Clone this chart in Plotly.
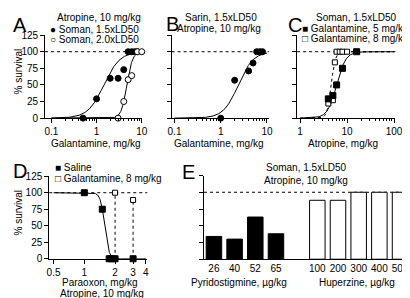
import numpy as np
import plotly.graph_objects as go

# ---------------- data ----------------
# Panel A: Galantamine dose (mg/kg) vs % survival, Atropine 10 mg/kg
A_dose_15 = [0.5, 1, 2, 3, 4, 5, 6, 7, 8]
A_surv_15 = [0, 29, 60, 60, 73, 100, 100, 100, 100]
A_dose_20 = [3, 4, 5, 6, 8, 10]
A_surv_20 = [0, 25, 58, 64, 100, 100]
A_fit_15 = (1.45, 2.46)   # EC50, Hill slope
A_fit_20 = (4.7, 7.0)

# Panel B: Sarin 1.5xLD50
B_dose = [1, 2, 4, 5, 6, 7, 8]
B_surv = [0, 57, 71, 83, 100, 100, 100]
B_fit = (2.4, 2.7)

# Panel C: Atropine dose (mg/kg)
C_dose_g5 = [4, 5, 6, 8, 16]
C_surv_g5 = [29, 34, 50, 75, 100]
C_dose_g8 = [4, 5, 5.5, 6, 7, 8, 10]
C_surv_g8 = [22, 27, 84, 100, 100, 100, 100]
C_fit_g5 = (6.0, 4.5)
C_fit_g8 = (4.6, 10.0)

# Panel D: Paraoxon dose (mg/kg)
D_dose_sal = [1, 1.5, 1.75, 1.85, 2, 3]
D_surv_sal = [100, 75, 0, 0, 0, 0]
D_dose_gal = [2, 3]
D_surv_gal = [100, 89]
D_fit_sal = (1.58, -21.0)
D_ticks = [0.5, 1, 2, 3, 4]

# Panel E
E_pyr_labels = ["26", "40", "52", "65"]
E_pyr_vals = [34, 30, 63, 38]
E_hup_labels = ["100", "200", "300", "400", "500"]
E_hup_vals = [88, 88, 100, 100, 100]

Y_TICKS = [0, 25, 50, 75, 100, 125]

# ---------------- helpers ----------------
W, H = 410, 298
FONT = "Arial"
FS = 10

def px(x):
    return x / W

def py(y):
    return 1 - y / H

def hill(params, lo, hi):
    ec50, h = params
    xs = np.logspace(np.log10(lo), np.log10(hi), 400)
    return xs, 100.0 / (1.0 + (ec50 / xs) ** h)

fig = go.Figure()

BLACK = "black"

def add_pts(x, y, xa, ya, symbol, filled, size=6):
    fig.add_trace(go.Scatter(
        x=x, y=y, mode="markers", xaxis=xa, yaxis=ya, cliponaxis=False,
        marker=dict(symbol=symbol, size=size,
                    color=BLACK if filled else "white",
                    line=dict(color=BLACK, width=1)),
        showlegend=False, hoverinfo="skip"))

def add_curve(params, lo, hi, xa, ya, dash="solid"):
    xs, ys = hill(params, lo, hi)
    fig.add_trace(go.Scatter(
        x=xs, y=ys, mode="lines", xaxis=xa, yaxis=ya,
        line=dict(color=BLACK, width=1, dash=dash),
        showlegend=False, hoverinfo="skip"))

# Panel A
add_curve(A_fit_15, 0.1, 10, "x", "y")
add_curve(A_fit_20, 0.1, 10, "x", "y")
add_pts(A_dose_15, A_surv_15, "x", "y", "circle", True)
add_pts(A_dose_20, A_surv_20, "x", "y", "circle", False)
# Panel B
add_curve(B_fit, 0.1, 10, "x2", "y2")
add_pts(B_dose, B_surv, "x2", "y2", "circle", True)
# Panel C
add_curve(C_fit_g8, 1, 100, "x3", "y3", dash="dot")
add_curve(C_fit_g5, 1, 100, "x3", "y3")
add_pts(C_dose_g8, C_surv_g8, "x3", "y3", "square", False, 5)
add_pts(C_dose_g5, C_surv_g5, "x3", "y3", "square", True, 6)
# Panel D
add_curve(D_fit_sal, 0.5, 4, "x4", "y4")
add_pts(D_dose_sal, D_surv_sal, "x4", "y4", "square", True, 6)
add_pts(D_dose_gal, D_surv_gal, "x4", "y4", "square", False, 5)
for xv, yv in zip(D_dose_gal, D_surv_gal):
    fig.add_shape(type="line", xref="x4", yref="y4", x0=xv, x1=xv, y0=0, y1=yv,
                  line=dict(color=BLACK, width=1, dash="dot"), layer="below")

# Panel E bars
pos_pyr = list(range(len(E_pyr_labels)))
pos_hup = list(range(len(E_pyr_labels) + 1, len(E_pyr_labels) + 1 + len(E_hup_labels)))
fig.add_trace(go.Bar(x=pos_pyr, y=E_pyr_vals, xaxis="x5", yaxis="y5", width=0.75,
                     marker=dict(color=BLACK, line=dict(color=BLACK, width=1)),
                     showlegend=False, hoverinfo="skip"))
fig.add_trace(go.Bar(x=pos_hup, y=E_hup_vals, xaxis="x5", yaxis="y5", width=0.75,
                     marker=dict(color="white", line=dict(color=BLACK, width=1)),
                     showlegend=False, hoverinfo="skip"))

# dotted 100% reference lines
for xr, yr in [("x", "y"), ("x2", "y2"), ("x3", "y3"), ("x4", "y4"), ("x5", "y5")]:
    fig.add_shape(type="line", xref=f"{xr} domain", yref=yr, x0=0, x1=1, y0=100, y1=100,
                  line=dict(color=BLACK, width=1, dash="dot"), layer="below")

# ---------------- axes ----------------
tickfont = dict(family=FONT, size=FS, color=BLACK)

def yaxis(dom_top, dom_bot, labels):
    return dict(domain=[py(dom_bot), py(dom_top)], range=[0, 125], showgrid=False,
                zeroline=False, showline=True, linecolor=BLACK, linewidth=1,
                ticks="outside", ticklen=4, tickwidth=1, tickcolor=BLACK,
                tickvals=Y_TICKS, showticklabels=labels, tickfont=tickfont,
                fixedrange=True)

def minor_vals(lo_exp, hi_exp):
    vals = []
    for e in range(lo_exp, hi_exp):
        for m in range(2, 10):
            vals.append(m * 10.0 ** e)
    return vals

def logx(left, right, rng, ya, tickvals, ticktext, minor=True):
    d = dict(type="log", domain=[px(left), px(right)], range=rng, anchor=ya,
             showgrid=False, zeroline=False, showline=True, linecolor=BLACK, linewidth=1,
             ticks="outside", ticklen=4, tickwidth=1, tickcolor=BLACK,
             tickvals=tickvals, ticktext=ticktext, tickfont=tickfont, fixedrange=True)
    if minor:
        lo = int(np.floor(np.log10(tickvals[0])))
        hi = int(np.round(np.log10(tickvals[-1])))
        d["minor"] = dict(tickvals=minor_vals(lo, hi), ticks="outside", ticklen=2,
                          tickwidth=1, tickcolor=BLACK)
    return d

fig.update_layout(
    xaxis=logx(34, 134, [-1.14, 1.015], "y", [0.1, 1, 10], ["0.1", "1", "10"]),
    yaxis=yaxis(22, 108.5, True) | dict(anchor="x"),
    xaxis2=logx(164, 264, [-1.063, 1.042], "y2", [0.1, 1, 10], ["0.1", "1", "10"]),
    yaxis2=yaxis(22, 108.5, False) | dict(anchor="x2"),
    xaxis3=logx(293, 394, [-0.062, 2.03], "y3", [1, 10, 100], ["1", "10", "100"]),
    yaxis3=yaxis(22, 108.5, False) | dict(anchor="x3"),
    xaxis4=logx(38.3, 139, [-0.343, 0.616], "y4", D_ticks, [str(t) for t in D_ticks], minor=False),
    yaxis4=yaxis(169, 255, True) | dict(anchor="x4"),
    xaxis5=dict(domain=[px(197.3), px(410)], range=[-0.48, 9.53], anchor="y5",
                showgrid=False, zeroline=False, showline=True, linecolor=BLACK, linewidth=1,
                ticks="", tickvals=pos_pyr + pos_hup, ticktext=E_pyr_labels + E_hup_labels,
                tickfont=tickfont, fixedrange=True),
    yaxis5=yaxis(168.3, 255.5, False) | dict(anchor="x5"),
)

# ---------------- text ----------------
def ann(text, x, y, size=FS, xanchor="center", yanchor="middle", angle=0):
    fig.add_annotation(text=text, x=px(x), y=py(y), xref="paper", yref="paper",
                       showarrow=False, xanchor=xanchor, yanchor=yanchor, textangle=angle,
                       font=dict(family=FONT, size=size, color=BLACK))

# panel letters
for letter, (lx, ly) in {"A": (8, 11), "B": (165, 10), "C": (291, 11),
                         "D": (8, 164), "E": (181, 165)}.items():
    ann(letter, lx, ly, size=20)

# Panel A
ann("Atropine, 10 mg/kg", 89, 4)
ann("\u25cf Soman, 1.5xLD50", 37, 15.7, xanchor="left")
ann("\u25cb Soman, 2.0xLD50", 37, 26.7, xanchor="left")
ann("Galantamine, mg/kg", 86, 134.5)
ann("% survival", 7, 60, angle=-90)
# Panel B
ann("Sarin, 1.5xLD50", 215, 4)
ann("Atropine, 10 mg/kg", 213, 15.5)
ann("Galantamine, mg/kg", 213, 134.5)
# Panel C
ann("Soman, 1.5xLD50", 353, 4)
ann("\u25a0 Galantamine, 5 mg/kg", 296, 15, xanchor="left")
ann("\u25a1 Galantamine, 8 mg/kg", 296, 26, xanchor="left")
ann("Atropine, mg/kg", 340, 134.5)
# Panel D
ann("\u25a0 Saline", 42, 160, xanchor="left")
ann("\u25a1 Galantamine, 8 mg/kg", 42, 171.7, xanchor="left")
ann("% survival", 7, 207, angle=-90)
ann("Paraoxon, mg/kg", 90.5, 279.5)
ann("Atropine, 10 mg/kg", 92, 291)
# Panel E
ann("Soman, 1.5xLD50", 302, 160)
ann("Atropine, 10 mg/kg", 302, 174)
ann("Pyridostigmine, \u00b5g/kg", 233, 279.5)
ann("Huperzine, \u00b5g/kg", 354, 279.5)

fig.update_layout(width=W, height=H, margin=dict(l=0, r=0, t=0, b=0),
                  paper_bgcolor="white", plot_bgcolor="white", showlegend=False,
                  bargap=0.25)

fig.write_html("out.html")
